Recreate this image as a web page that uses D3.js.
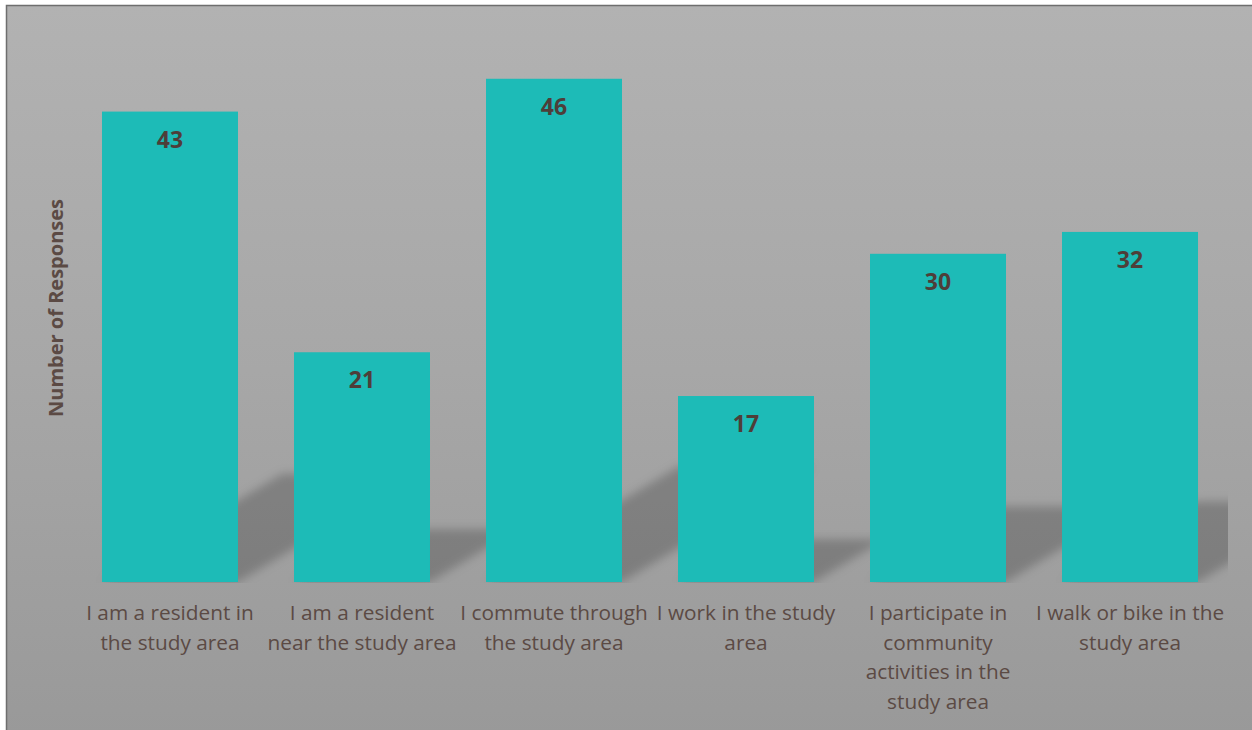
<!DOCTYPE html>
<html>
<head>
<meta charset="utf-8">
<script src="https://cdn.jsdelivr.net/npm/d3@7"></script>
<style>
  html, body { margin: 0; padding: 0; background: #ffffff; }
  svg { display: block; }
</style>
</head>
<body>
<script>
// ---- data ----
const categories = [
  "I am a resident in\nthe study area",
  "I am a resident\nnear the study area",
  "I commute through\nthe study area",
  "I work in the study\narea",
  "I participate in\ncommunity\nactivities in the\nstudy area",
  "I walk or bike in the\nstudy area"
];
const responses = [43, 21, 46, 17, 30, 32];
const yTitle = "Number of Responses";
const yDomain = [0, 50];

// ---- layout ----
const W = 1252, H = 730;
const plot = { left: 74, right: 1226, top: 35, bottom: 582 };
const barColor = "#1dbbb7";
const textColor = "#5b4a44";
const labelColor = "#4e3e39";
const font = "'Open Sans', 'Noto Sans', sans-serif";

const svg = d3.select("body").append("svg")
  .attr("width", W).attr("height", H);

const defs = svg.append("defs");
const bg = defs.append("linearGradient").attr("id", "bg")
  .attr("x1", 0).attr("y1", 0).attr("x2", 0).attr("y2", 1);
bg.append("stop").attr("offset", "0%").attr("stop-color", "#b2b2b2");
bg.append("stop").attr("offset", "50%").attr("stop-color", "#a7a7a7");
bg.append("stop").attr("offset", "100%").attr("stop-color", "#999999");

const blur = defs.append("filter").attr("id", "blur")
  .attr("x", "-20%").attr("y", "-20%").attr("width", "140%").attr("height", "140%");
blur.append("feGaussianBlur").attr("stdDeviation", 5);

defs.append("clipPath").attr("id", "plotClip")
  .append("rect")
  .attr("x", plot.left).attr("y", plot.top)
  .attr("width", plot.right - plot.left + 2)
  .attr("height", plot.bottom - plot.top + 1);

// background + frame
svg.append("rect").attr("x", 6).attr("y", 5)
  .attr("width", W).attr("height", H)
  .attr("fill", "url(#bg)");
svg.append("path")
  .attr("d", `M6.5,${H} L6.5,5.5 L${W},5.5`)
  .attr("fill", "none").attr("stroke", "#6e6e6e").attr("stroke-width", 1.5);

// scales
const x = d3.scaleBand()
  .domain(categories)
  .range([plot.left, plot.right])
  .paddingInner(0.2917)
  .paddingOuter(0.1458);
const y = d3.scaleLinear().domain(yDomain).range([plot.bottom, plot.top]);

// shadows (perspective, cast up-right)
const shadowG = svg.append("g").attr("clip-path", "url(#plotClip)");
shadowG.selectAll("path")
  .data(responses)
  .join("path")
  .attr("filter", "url(#blur)")
  .attr("fill", "#000")
  .attr("fill-opacity", 0.21)
  .attr("d", (d, i) => {
    const x0 = x(categories[i]), x1 = x0 + x.bandwidth();
    const base = y(0);
    const sh = 0.23 * (y(0) - y(d));
    const dx = sh / 0.6;
    return `M${x0},${base} L${x1},${base} L${x1 + dx},${base - sh} L${x0 + dx},${base - sh} Z`;
  });

// bars
svg.append("g").selectAll("rect")
  .data(responses)
  .join("rect")
  .attr("x", (d, i) => x(categories[i]))
  .attr("width", x.bandwidth())
  .attr("y", d => y(d))
  .attr("height", d => y(0) - y(d))
  .attr("fill", barColor);

// value labels
svg.append("g").selectAll("text")
  .data(responses)
  .join("text")
  .attr("x", (d, i) => x(categories[i]) + x.bandwidth() / 2)
  .attr("y", d => y(d) + 36)
  .attr("text-anchor", "middle")
  .attr("font-family", font)
  .attr("font-weight", "bold")
  .attr("font-size", "23px")
  .attr("fill", labelColor)
  .text(d => d);

// x axis (labels only)
const xAxis = d3.axisBottom(x).tickSize(0).tickPadding(0);
const gx = svg.append("g").attr("transform", `translate(0,${plot.bottom})`).call(xAxis);
gx.select(".domain").remove();
gx.selectAll(".tick text").each(function(d) {
  const t = d3.select(this);
  const lines = d.split("\n");
  t.text(null)
    .attr("y", 0)
    .attr("dy", null)
    .attr("font-family", font)
    .attr("font-size", "20.8px")
    .attr("fill", textColor);
  lines.forEach((ln, k) => {
    t.append("tspan").attr("x", 0).attr("y", 38 + k * 29.5).text(ln);
  });
});

// y title
svg.append("text")
  .attr("transform", `translate(63,308) rotate(-90)`)
  .attr("text-anchor", "middle")
  .attr("font-family", font)
  .attr("font-weight", "bold")
  .attr("font-size", "20px")
  .attr("fill", textColor)
  .text(yTitle);
</script>
</body>
</html>
